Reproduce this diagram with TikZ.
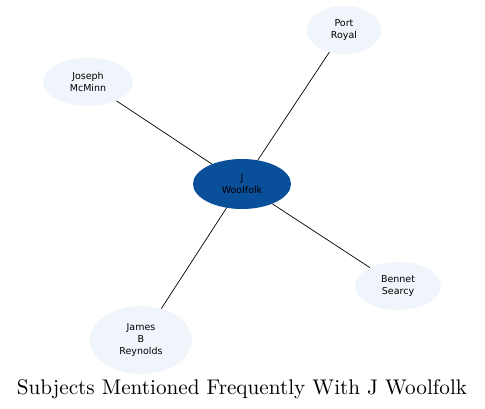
\documentclass[tikz,border=0pt]{standalone}
\usepackage{fontspec}
\newfontfamily\nodefont{DejaVu Sans}
\newfontfamily\capfont[Extension=.otf]{lmroman10-regular}
\usetikzlibrary{shapes.geometric}
\definecolor{hubblue}{HTML}{0A4F9A}
\definecolor{leaffill}{HTML}{F0F5FC}
\tikzset{
  leaf/.style={ellipse, fill=leaffill, draw=none, inner sep=0pt, align=center,
    font=\nodefont\fontsize{9.5}{12}\selectfont, text=black},
  hub/.style={ellipse, fill=hubblue, draw=none, inner sep=0pt, align=center,
    font=\nodefont\fontsize{9.5}{12}\selectfont, text=black},
  link/.style={draw=black, line width=0.7pt}
}
\begin{document}
\begin{tikzpicture}[x=1pt,y=-1pt]
\useasboundingbox (0,0) rectangle (485,409);
\node[hub, minimum width=98pt, minimum height=50pt] (jw) at (242,184) {J\\Woolfolk};
\node[leaf, minimum width=90pt, minimum height=48pt] (jm) at (88,82) {Joseph\\McMinn};
\node[leaf, minimum width=74pt, minimum height=48pt] (pr) at (344,30) {Port\\Royal};
\node[leaf, minimum width=86pt, minimum height=48pt] (bs) at (398,286) {Bennet\\Searcy};
\node[leaf, minimum width=102pt, minimum height=68pt] (jb) at (141,340) {James\\B\\Reynolds};
\draw[link] (jw) -- (jm);
\draw[link] (jw) -- (pr);
\draw[link] (jw) -- (bs);
\draw[link] (jw) -- (jb);
\node[font=\capfont\fontsize{21.2}{24}\selectfont, inner sep=0pt, anchor=base] (cap) at (242,394) {Subjects Mentioned Frequently With J Woolfolk};
\end{tikzpicture}
\end{document}
